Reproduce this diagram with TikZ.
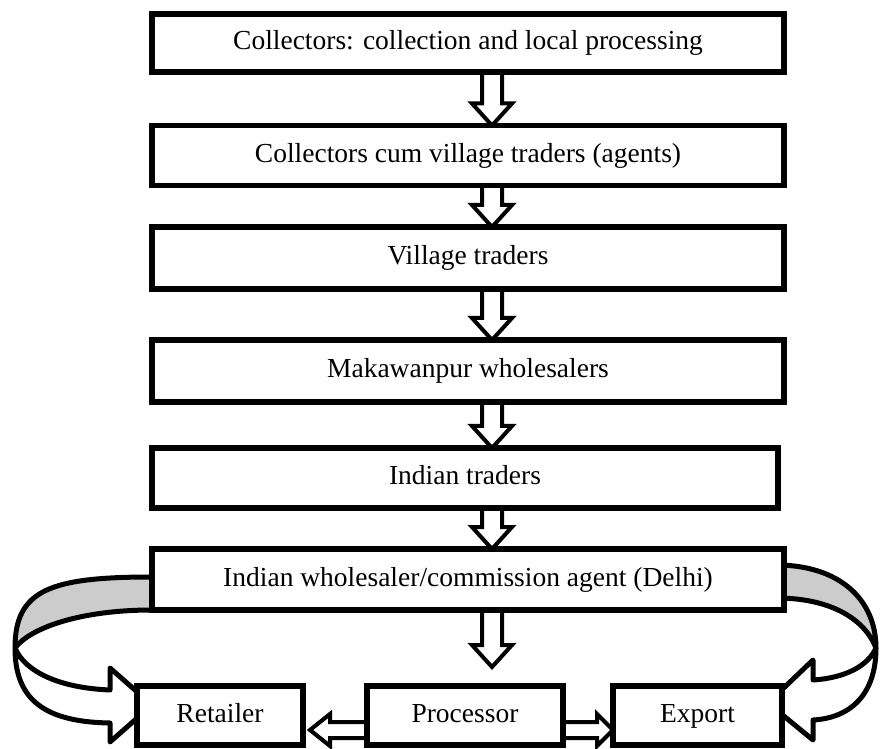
\documentclass[tikz,border=0pt]{standalone}
\usepackage{fontspec}
\setmainfont{Liberation Serif}
\usetikzlibrary{calc}
\pgfdeclarelayer{background}
\pgfsetlayers{background,main}
\definecolor{bandgray}{RGB}{204,204,204}

% hollow block arrow from one box down to the next
\newcommand{\flowdown}[2]{%
	\draw [hollowarrow]
		($(#1 -| axis)+(-10,0)$) -- ($(#2 -| axis)+(-10,-22)$)
		-- ($(#2 -| axis)+(-20,-22)$) -- (#2 -| axis)
		-- ($(#2 -| axis)+(20,-22)$) -- ($(#2 -| axis)+(10,-22)$)
		-- ($(#1 -| axis)+(10,0)$) -- cycle;
}
% hollow block arrow sideways (#3 = head length, signed)
\newcommand{\flowside}[3]{%
	\draw [hollowarrow]
		($(#1 |- hbar)+(0,-8)$) -- ($(#2 |- hbar)+(#3,-8)$)
		-- ($(#2 |- hbar)+(#3,-16)$) -- (#2 |- hbar)
		-- ($(#2 |- hbar)+(#3,16)$) -- ($(#2 |- hbar)+(#3,8)$)
		-- ($(#1 |- hbar)+(0,8)$) -- cycle;
}

\begin{document}
\begin{tikzpicture}[
		x=0.5pt,
		y=-0.5pt,
		stage/.style={
				draw=black,
				line width=2.6pt,
				fill=white,
				minimum width=316pt,
				minimum height=30pt,
				inner sep=0pt,
				outer sep=0pt,
				text height=9.6pt,
				text depth=3pt,
				font=\fontsize{13.75}{16}\selectfont
			},
		outlet/.style={
				stage,
				minimum height=29.5pt
			},
		hollowarrow/.style={
				draw=black,
				line width=2pt,
				fill=white,
				line join=miter
			},
		ribbon/.style={
				draw=black,
				line width=2.5pt,
				line join=round
			},
	]
	\useasboundingbox (0,0) rectangle (880,749);
	\coordinate (axis) at (492,0);
	\coordinate (hbar) at (0,730);

	\node [stage, minimum height=29pt] (collect) at (468,43) {Collectors: collection and local processing};
	\node [stage] (agents) at (468,155.5) {Collectors cum village traders (agents)};
	\node [stage, minimum height=31pt] (village) at (468,258) {Village traders};
	\node [stage, minimum height=31pt] (makawan) at (468,371) {Makawanpur wholesalers};
	\node [stage, minimum width=313pt] (indian) at (465,478) {Indian traders};
	\node [stage, minimum height=30.5pt] (delhi) at (468,579.5) {Indian wholesaler/commission agent (Delhi)};
	\node [outlet, minimum width=83pt] (retail) at (220,715.5) {Retailer};
	\node [outlet, minimum width=98pt] (proc) at (465,715.5) {Processor};
	\node [outlet, minimum width=84.5pt] (export) at (697.5,715.5) {Export};

	\coordinate (procin) at ($(proc.north)+(0,-19)$);
	\coordinate (rtip) at ($(retail.east)+(7,0)$);

	\begin{pgfonlayer}{background}
		\flowdown{collect.south}{agents.north}
		\flowdown{agents.south}{village.north}
		\flowdown{village.south}{makawan.north}
		\flowdown{makawan.south}{indian.north}
		\flowdown{indian.south}{delhi.north}
		\flowdown{delhi.south}{procin}
		\flowside{proc.west}{rtip}{20}
		\flowside{proc.east}{export.west}{-16}

		% curved arrow to the retailer
		\filldraw [ribbon, fill=bandgray] (160,577) -- (152,577)
			.. controls (50,577) and (15,590) .. (15,648)
			.. controls (30,628) and (80,610) .. (152,610) -- (160,610) -- cycle;
		\filldraw [ribbon, fill=white] (15,648)
			.. controls (15,700) and (45,722) .. (110,723) -- (110,742) -- (152,705)
			-- (110,668) -- (110,690)
			.. controls (60,688) and (25,672) .. (15,648) -- cycle;

		% curved arrow to export
		\filldraw [ribbon, fill=bandgray] (776,565)
			.. controls (840,565) and (876,600) .. (876,648)
			.. controls (866,622) and (835,598) .. (776,598) -- cycle;
		\filldraw [ribbon, fill=white] (876,648)
			.. controls (876,695) and (850,718) .. (813,720) -- (813,740) -- (768,703)
			-- (813,660) -- (813,680)
			.. controls (845,678) and (868,666) .. (876,648) -- cycle;
	\end{pgfonlayer}
\end{tikzpicture}
\end{document}
